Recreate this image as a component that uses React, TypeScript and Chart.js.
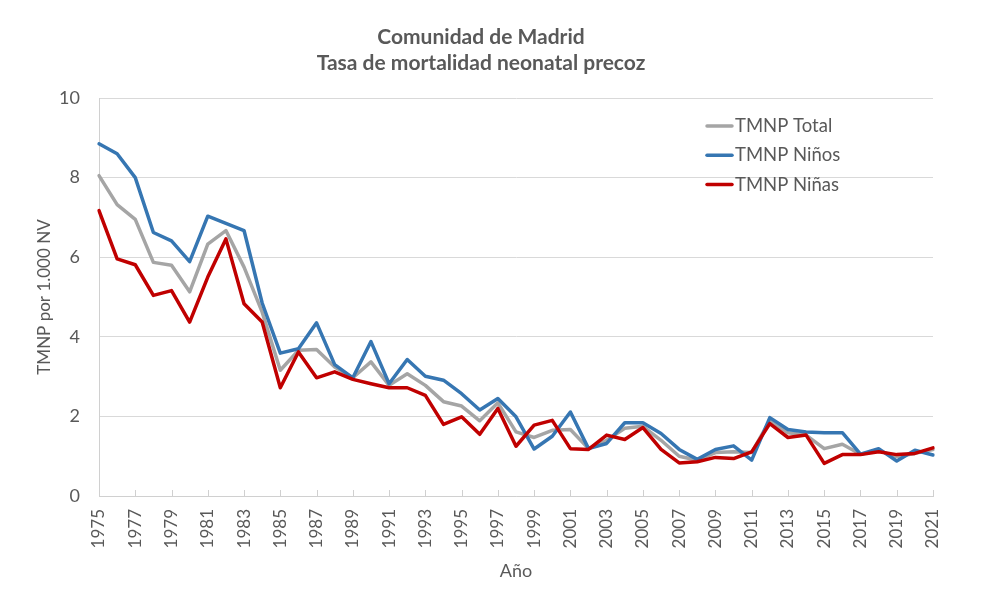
import React, { useEffect, useRef } from "react";
import { Chart, registerables } from "chart.js";

Chart.register(...registerables);

const years: string[] = [
  "1975","1976","1977","1978","1979","1980","1981","1982","1983","1984",
  "1985","1986","1987","1988","1989","1990","1991","1992","1993","1994",
  "1995","1996","1997","1998","1999","2000","2001","2002","2003","2004",
  "2005","2006","2007","2008","2009","2010","2011","2012","2013","2014",
  "2015","2016","2017","2018","2019","2020","2021",
];

const tmnpTotal: number[] = [
  8.05, 7.32, 6.95, 5.87, 5.80, 5.13, 6.33, 6.67, 5.75, 4.62,
  3.16, 3.66, 3.68, 3.24, 2.97, 3.37, 2.78, 3.07, 2.78, 2.37,
  2.26, 1.89, 2.34, 1.61, 1.47, 1.65, 1.67, 1.19, 1.40, 1.70,
  1.75, 1.40, 1.00, 0.90, 1.09, 1.11, 1.09, 1.90, 1.59, 1.53,
  1.19, 1.30, 1.05, 1.14, 0.99, 1.07, 1.17,
];

const tmnpNinos: number[] = [
  8.85, 8.60, 8.00, 6.62, 6.41, 5.89, 7.03, 6.85, 6.67, 4.85,
  3.59, 3.70, 4.35, 3.30, 2.97, 3.88, 2.82, 3.43, 3.01, 2.91,
  2.57, 2.16, 2.45, 1.99, 1.18, 1.50, 2.11, 1.19, 1.32, 1.84,
  1.84, 1.57, 1.17, 0.92, 1.17, 1.26, 0.90, 1.97, 1.67, 1.61,
  1.59, 1.59, 1.05, 1.19, 0.88, 1.15, 1.03,
];

const tmnpNinas: number[] = [
  7.17, 5.96, 5.81, 5.04, 5.16, 4.37, 5.50, 6.46, 4.83, 4.37,
  2.72, 3.62, 2.97, 3.12, 2.93, 2.82, 2.72, 2.72, 2.53, 1.80,
  1.99, 1.55, 2.20, 1.25, 1.78, 1.90, 1.19, 1.17, 1.53, 1.42,
  1.72, 1.17, 0.83, 0.86, 0.97, 0.94, 1.11, 1.82, 1.47, 1.53,
  0.82, 1.04, 1.04, 1.11, 1.04, 1.07, 1.21,
];

const seriesLabels: string[] = ["TMNP Total", "TMNP Niños", "TMNP Niñas"];
const titleLines: string[] = ["Comunidad de Madrid", "Tasa de mortalidad neonatal precoz"];
const yTitle = "TMNP por 1.000 NV";
const xTitle = "Año";

const FONT = "Lato, 'Open Sans', sans-serif";
const TEXT = "#595959";

const innerTicks = {
  id: "innerTicks",
  beforeDatasetsDraw(chart: any) {
    const { ctx, chartArea, scales } = chart;
    const xs = scales.x;
    ctx.save();
    ctx.strokeStyle = "#D0D0D0";
    ctx.lineWidth = 1;
    for (let i = 0; i < years.length; i += 2) {
      const x = Math.round(xs.getPixelForValue(i)) + 0.5;
      ctx.beginPath();
      ctx.moveTo(x, chartArea.bottom);
      ctx.lineTo(x, chartArea.bottom - 6);
      ctx.stroke();
    }
    ctx.restore();
  },
};

const innerLegend = {
  id: "innerLegend",
  afterDraw(chart: any) {
    const { ctx, chartArea } = chart;
    const x0 = chartArea.right - 226;
    const y0 = chartArea.top + 28;
    ctx.save();
    ctx.font = `18.5px ${FONT}`;
    ctx.textBaseline = "middle";
    ctx.textAlign = "left";
    chart.data.datasets.forEach((ds: any, i: number) => {
      const y = y0 + i * 29.3;
      ctx.strokeStyle = ds.borderColor;
      ctx.lineWidth = 3.5;
      ctx.lineCap = "round";
      ctx.beginPath();
      ctx.moveTo(x0, y);
      ctx.lineTo(x0 + 25, y);
      ctx.stroke();
      ctx.fillStyle = TEXT;
      ctx.fillText(ds.label, x0 + 28, y);
    });
    ctx.restore();
  },
};

export default function App() {
  const ref = useRef<HTMLCanvasElement | null>(null);

  useEffect(() => {
    if (!ref.current) return;
    const chart = new Chart(ref.current, {
      type: "line",
      data: {
        labels: years,
        datasets: [
          { label: seriesLabels[0], data: tmnpTotal, borderColor: "#A5A5A5", order: 3 },
          { label: seriesLabels[1], data: tmnpNinos, borderColor: "#3676B2", order: 2 },
          { label: seriesLabels[2], data: tmnpNinas, borderColor: "#C00000", order: 1 },
        ].map((d) => ({
          ...d,
          backgroundColor: d.borderColor,
          borderWidth: 3.5,
          pointRadius: 0,
          tension: 0,
          borderJoinStyle: "round" as const,
          borderCapStyle: "round" as const,
        })),
      },
      options: {
        responsive: false,
        animation: false,
        devicePixelRatio: 1,
        layout: { padding: { left: 29, right: 48, top: 0, bottom: 13 } },
        plugins: {
          legend: { display: false },
          tooltip: { enabled: false },
          title: {
            display: true,
            text: titleLines,
            color: TEXT,
            font: { family: FONT, size: 21, weight: "bold", lineHeight: 1.25 },
            padding: { top: 24, bottom: 21.5 },
          },
        },
        scales: {
          x: {
            grid: { display: false, drawTicks: false },
            border: { display: true, color: "#D0D0D0", width: 1 },
            ticks: {
              autoSkip: false,
              minRotation: 90,
              maxRotation: 90,
              padding: 13,
              color: TEXT,
              font: { family: FONT, size: 17 },
              callback: (_v: any, i: number) => (i % 2 === 0 ? years[i] : ""),
            },
            title: {
              display: true,
              text: xTitle,
              color: TEXT,
              font: { family: FONT, size: 18 },
              padding: { top: 0, bottom: 3 },
            },
            afterFit: (s: any) => {
              s.height = 89;
            },
          },
          y: {
            min: 0,
            max: 10,
            ticks: {
              stepSize: 2,
              padding: 19,
              color: TEXT,
              font: { family: FONT, size: 18 },
            },
            grid: { color: "#D9D9D9", lineWidth: 1, drawTicks: false },
            border: { display: true, color: "#D0D0D0", width: 1 },
            title: {
              display: true,
              text: yTitle,
              color: TEXT,
              font: { family: FONT, size: 17 },
              padding: { top: 5, bottom: 0 },
            },
            afterFit: (s: any) => {
              s.width = 70;
            },
          },
        },
      },
      plugins: [innerTicks, innerLegend],
    });
    return () => chart.destroy();
  }, []);

  return (
    <div style={{ position: "absolute", left: 0, top: 0, width: 981, height: 598, background: "#fff" }}>
      <canvas ref={ref} width={981} height={598} />
    </div>
  );
}
